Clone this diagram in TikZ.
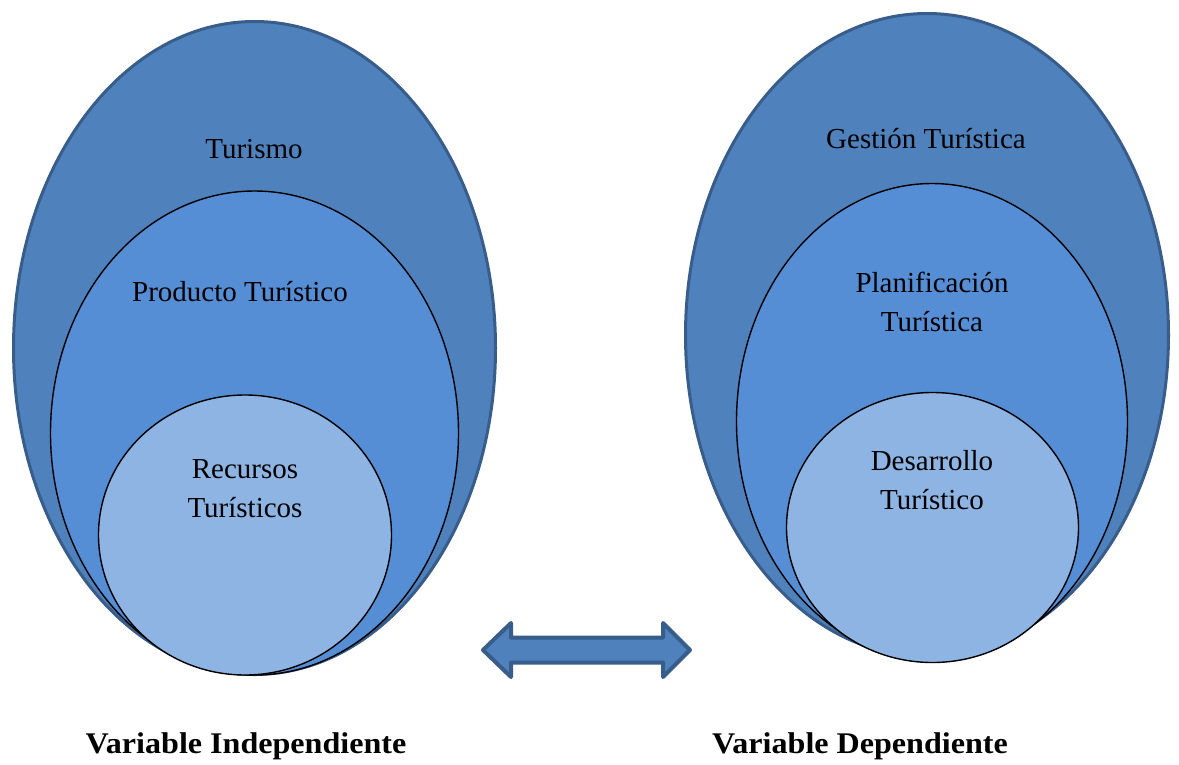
\documentclass[tikz,border=0pt]{standalone}
\usepackage{fontspec}
\setmainfont{Liberation Serif}
\usetikzlibrary{shapes.geometric}
\definecolor{outerfill}{HTML}{4F81BD}
\definecolor{outerline}{HTML}{385D8A}
\definecolor{midfill}{HTML}{558ED5}
\definecolor{innerfill}{HTML}{8EB4E3}
\begin{document}
\begin{tikzpicture}[x=1pt,y=-1pt,
  ring/.style={ellipse,inner sep=0pt,outer sep=0pt},
  outerring/.style={ring,fill=outerfill,draw=outerline,line width=3pt},
  midring/.style={ring,fill=midfill,draw=black,line width=1.4pt},
  innerring/.style={ring,fill=innerfill,draw=black,line width=1.4pt},
  lbl/.style={align=center,inner sep=0pt,font=\fontsize{29}{39}\selectfont},
  caption/.style={inner sep=0pt,font=\fontsize{30}{36}\selectfont\bfseries},
  bigarrow/.style={fill=outerfill,draw=outerline,line width=4pt,line join=round}]
\useasboundingbox (0,0) rectangle (1179,764);
% left group: Turismo > Producto > Recursos
\node[outerring,minimum width=482pt,minimum height=653pt] (turismo) at (254.5,348) {};
\node[midring,minimum width=408pt,minimum height=484pt] (producto) at (254.5,433) {};
\node[innerring,minimum width=293pt,minimum height=280pt] (recursos) at (245,535) {};
% right group: Gestion > Planificacion > Desarrollo
\node[outerring,minimum width=483pt,minimum height=643pt] (gestion) at (927,335) {};
\node[midring,minimum width=391pt,minimum height=476pt] (planif) at (932,421.5) {};
\node[innerring,minimum width=292pt,minimum height=270pt] (desarrollo) at (932.5,527.5) {};
% labels inside the ellipses
\node[lbl] (tTurismo) at (254,149) {Turismo};
\node[lbl] (tProducto) at (240,292) {Producto Turístico};
\node[lbl] (tRecursos) at (245,489) {Recursos\\Turísticos};
\node[lbl] (tGestion) at (926,139) {Gestión Turística};
\node[lbl] (tPlanif) at (932,302) {Planificación\\Turística};
\node[lbl] (tDesarrollo) at (932,480) {Desarrollo\\Turístico};
% double-headed block arrow between the two variables
\coordinate (arrL) at (483,650);
\coordinate (arrR) at (690,650);
\draw[bigarrow] (arrL) -- ++(28,-27) -- ++(0,14.5) -- ++(152,0) -- ++(0,-14.5)
  -- (arrR) -- ++(-27,27) -- ++(0,-14.5) -- ++(-152,0) -- ++(0,14.5) -- cycle;
% captions
\node[caption] (vInd) at (246,746) {\scalebox{1.07}[1]{Variable Independiente}};
\node[caption] (vDep) at (860,746) {\scalebox{1.07}[1]{Variable Dependiente}};
\end{tikzpicture}
\end{document}
